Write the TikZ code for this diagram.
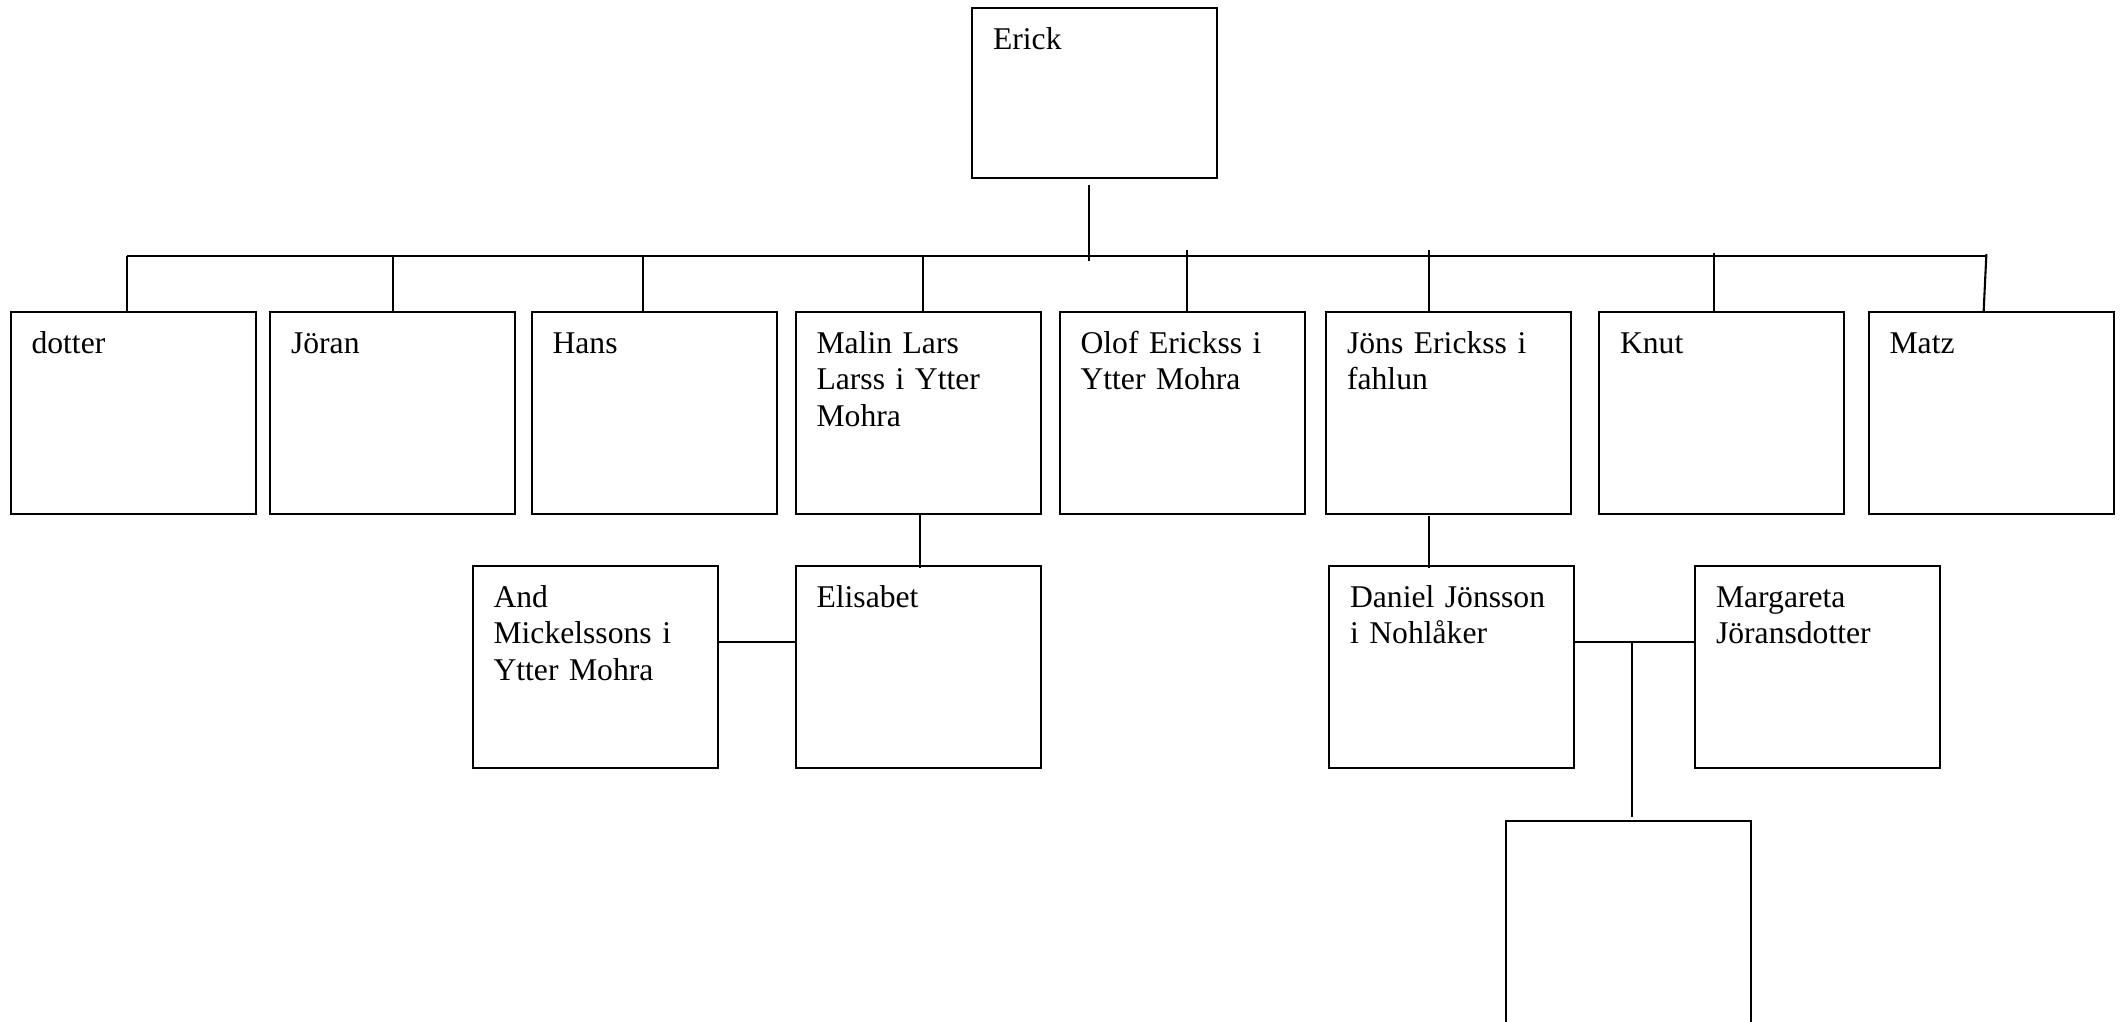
\documentclass[tikz,border=0pt]{standalone}
\usepackage{fontspec}
\setmainfont{Liberation Serif}
\usepackage{xcolor}
\usepackage{tikz}

\begin{document}
\begin{tikzpicture}
    % Define styles
    \tikzstyle{person} = [rectangle, draw=black, line width=0.6pt, anchor=north west, text width=2.03cm, align=left, inner xsep=0.21cm, inner ysep=4.4pt, text height=7.3pt, text depth=41.4pt, font=\fontsize{9}{10.4}\selectfont]
    \tikzstyle{link} = [line width=0.6pt, color=black]

    \useasboundingbox (0,0) rectangle (21.22,-10.21);

    % Nodes
    \node [person, text depth=32.3pt] (erick) at (9.71,-0.07) {Erick};

    \node [person] (dotter) at (0.095,-3.11) {dotter};
    \node [person] (joran) at (2.69,-3.11) {Jöran};
    \node [person] (hans) at (5.305,-3.11) {Hans};
    \node [person] (malin) at (7.945,-3.11) {Malin Lars\\Larss i Ytter\\Mohra};
    \node [person] (olof) at (10.585,-3.11) {Olof Erickss i\\Ytter Mohra};
    \node [person] (jons) at (13.25,-3.11) {Jöns Erickss i\\fahlun};
    \node [person] (knut) at (15.98,-3.11) {Knut};
    \node [person] (matz) at (18.675,-3.11) {Matz};

    \node [person] (and) at (4.715,-5.65) {And\\Mickelssons i\\Ytter Mohra};
    \node [person] (elisabet) at (7.945,-5.65) {Elisabet};
    \node [person] (daniel) at (13.28,-5.65) {Daniel Jönsson\\i Nohlåker};
    \node [person] (margareta) at (16.94,-5.65) {Margareta\\Jöransdotter};
    \node [person] (child) at (15.045,-8.20) {};

    % Lines
    \coordinate (bus) at (0,-2.56);
    \draw [link] ([xshift=-0.06cm]dotter.north |- bus) -- ([xshift=-0.047cm]matz.north |- bus);
    \draw [link] ([xshift=-0.06cm,yshift=-0.06cm]erick.south) -- ([xshift=-0.06cm,yshift=-0.05cm]erick.south |- bus);
    \foreach \n/\dx/\up in {dotter/-0.06/0, joran/0/0, hans/-0.115/0, malin/0.046/0, olof/0.045/0.06, jons/-0.198/0.06, knut/-0.072/0.03}
        \draw [link] ([xshift=\dx cm]\n.north) -- ([xshift=\dx cm,yshift=\up cm]\n.north |- bus);
    \draw [link] ([xshift=-0.074cm]matz.north) -- ([xshift=-0.047cm,yshift=0.02cm]matz.north |- bus);

    \draw [link] ([xshift=0.02cm,yshift=0.02cm]malin.south) -- ([xshift=0.02cm,yshift=-0.03cm]elisabet.north);
    \draw [link] ([yshift=0.25cm]and.east) -- ([yshift=0.25cm]elisabet.west);

    \draw [link] ([xshift=-0.198cm,yshift=-0.01cm]jons.south) -- ([xshift=-0.198cm,yshift=-0.03cm]jons.south |- daniel.north);
    \draw [link] ([yshift=0.25cm]daniel.east) -- ([yshift=0.25cm]margareta.west) coordinate[pos=0.48] (wed);
    \draw [link] (wed) -- ([yshift=0.03cm]wed |- child.north);
\end{tikzpicture}
\end{document}
